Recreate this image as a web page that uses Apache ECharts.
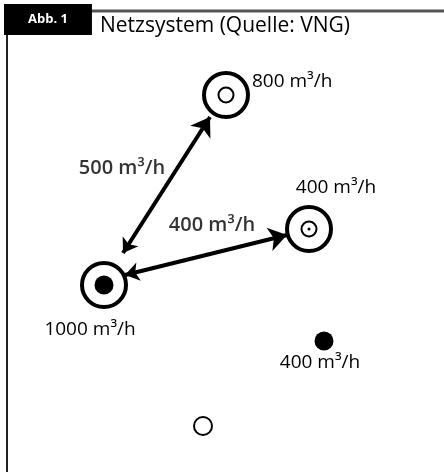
<!DOCTYPE html>
<html>
<head>
<meta charset="utf-8">
<script src="https://cdn.jsdelivr.net/npm/echarts@6/dist/echarts.min.js"></script>
<style>html,body{margin:0;padding:0;background:#fff;}#c{width:444px;height:472px;}</style>
</head>
<body>
<div id="c"></div>
<script>
// ---- data ----
const figureTag = 'Abb. 1';
const chartTitle = 'Netzsystem (Quelle: VNG)';
// nodes (diagram coordinates)
const nodeNames  = ['A', 'B', 'C', 'D', 'E'];
const nodeX      = [226, 309, 104, 324, 203];
const nodeY      = [95, 229, 285, 341, 426];
const nodeLabels = ['800 m³/h', '400 m³/h', '1000 m³/h', '400 m³/h', ''];
const nodeKinds  = ['ringHollow', 'ringDot', 'ringFilled', 'dot', 'hollow'];
// flows (arrow tips, diagram coordinates)
const flowFromX = [123, 125];
const flowFromY = [253, 275];
const flowToX   = [210, 287];
const flowToY   = [117, 235];
const flowLabels = ['500 m³/h', '400 m³/h'];
const flowLabelX = [122, 212];
const flowLabelY = [168, 225];

// ---- chart ----
const FONT = 'Open Sans';
const chart = echarts.init(document.getElementById('c'), null, {renderer: 'canvas'});

const idx = k => nodeKinds.map((v, i) => v === k ? i : -1).filter(i => i >= 0);
const pts = list => list.map(i => [nodeX[i], nodeY[i]]);
const ringIdx = nodeKinds.map((v, i) => v.indexOf('ring') === 0 ? i : -1).filter(i => i >= 0);

const labelPos = {
  ringHollow: {position: 'right', offset: [-2, -13], distance: 4},
  ringDot:    {position: 'top', offset: [27, -4], distance: 4},
  ringFilled: {position: 'bottom', offset: [-14, 7], distance: 4},
  dot:        {position: 'bottom', offset: [-4, 1], distance: -13},
  hollow:     {position: 'bottom', offset: [0, 0], distance: 4}
};

const labelSeries = {
  type: 'scatter', symbolSize: 48, symbol: 'circle', z: 10,
  itemStyle: {color: 'rgba(0,0,0,0)'}, silent: true,
  data: nodeNames.map((n, i) => ({
    value: [nodeX[i], nodeY[i]],
    label: Object.assign({show: !!nodeLabels[i], formatter: nodeLabels[i]}, labelPos[nodeKinds[i]])
  })),
  label: {color: '#000', opacity: 1, fontFamily: FONT, fontSize: 19, fontWeight: 500}
};

chart.setOption({
  animation: false,
  title: [
    {text: figureTag, left: 4, top: 4, backgroundColor: '#000', padding: [9, 24, 9, 24],
     textStyle: {color: '#fff', fontFamily: FONT, fontSize: 13, fontWeight: 'bold'}},
    {text: chartTitle, left: 100, top: 16, padding: 0,
     textStyle: {color: '#000', fontFamily: FONT, fontSize: 21, fontWeight: 'normal'}}
  ],
  graphic: [
    {type: 'line', shape: {x1: 92, y1: 11, x2: 444, y2: 11}, style: {stroke: '#555', lineWidth: 3}},
    {type: 'line', shape: {x1: 7, y1: 35, x2: 7, y2: 472}, style: {stroke: '#222', lineWidth: 2}}
  ],
  grid: {left: 0, right: 0, top: 0, bottom: 0},
  xAxis: {type: 'value', min: 0, max: 444, show: false},
  yAxis: {type: 'value', min: 0, max: 472, inverse: true, show: false},
  series: [
    // arrows
    {
      type: 'lines', coordinateSystem: 'cartesian2d', z: 3,
      symbol: ['arrow', 'arrow'], symbolSize: [14, 18], symbolOffset: [0, 9],
      lineStyle: {color: '#000', width: 4, opacity: 1, curveness: 0},
      itemStyle: {color: '#000'},
      data: flowFromX.map((x, i) => ({coords: [[x, flowFromY[i]], [flowToX[i], flowToY[i]]]}))
    },
    // flow labels
    {
      type: 'scatter', symbolSize: 0, z: 5, silent: true,
      data: flowLabels.map((t, i) => ({value: [flowLabelX[i], flowLabelY[i]], name: t})),
      label: {show: true, position: 'inside', formatter: p => p.name, color: '#000',
              fontFamily: FONT, fontSize: 20, fontWeight: 600}
    },
    // outer rings
    {
      type: 'scatter', symbol: 'circle', symbolSize: 44, z: 4, silent: true,
      itemStyle: {color: '#fff', borderColor: '#000', borderWidth: 4, opacity: 1},
      data: pts(ringIdx)
    },
    // inner hollow circles
    {
      type: 'scatter', symbol: 'circle', symbolSize: 15, z: 6, silent: true,
      itemStyle: {color: '#fff', borderColor: '#000', borderWidth: 2, opacity: 1},
      data: pts(idx('ringHollow').concat(idx('ringDot')))
    },
    // centre dot
    {
      type: 'scatter', symbol: 'circle', symbolSize: 3, z: 7, silent: true,
      itemStyle: {color: '#000', opacity: 1},
      data: pts(idx('ringDot'))
    },
    // filled dots
    {
      type: 'scatter', symbol: 'circle', symbolSize: 19, z: 6, silent: true,
      itemStyle: {color: '#000', opacity: 1},
      data: pts(idx('ringFilled').concat(idx('dot')))
    },
    // small hollow circle
    {
      type: 'scatter', symbol: 'circle', symbolSize: 18, z: 6, silent: true,
      itemStyle: {color: '#fff', borderColor: '#000', borderWidth: 2, opacity: 1},
      data: pts(idx('hollow'))
    },
    labelSeries
  ]
});
</script>
</body>
</html>
